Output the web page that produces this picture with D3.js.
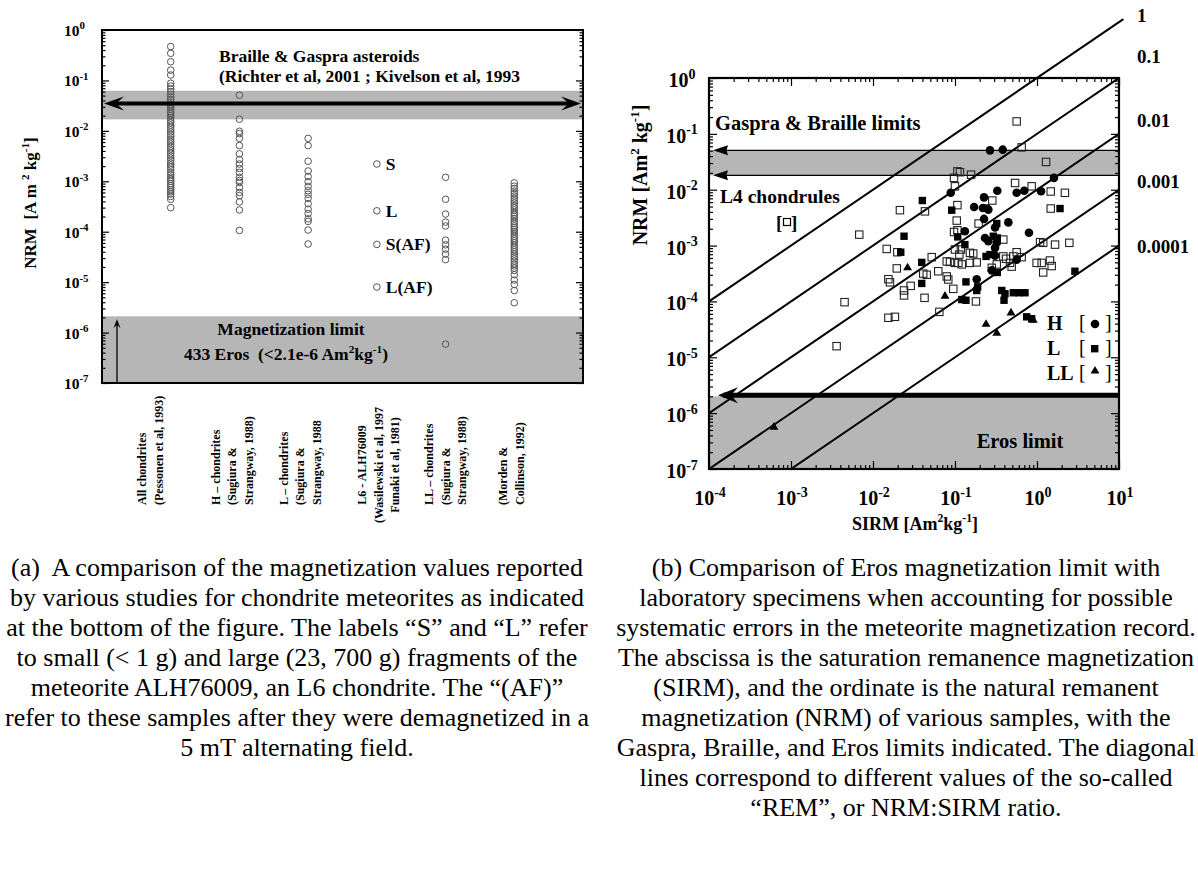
<!DOCTYPE html>
<html>
<head>
<meta charset="utf-8">
<script src="https://cdn.jsdelivr.net/npm/d3@7"></script>
<style>
  body { margin: 0; background: #fff; }
  svg { display: block; }
  text { font-family: "Liberation Serif", "Times New Roman", Times, serif; white-space: pre; }
</style>
</head>
<body>
<svg id="fig" width="1198" height="888"></svg>
<script>
// ---------------- Panel (a): reported chondrite NRM values [A m^2 kg^-1] ----------------
const sourceKeys = ["all", "H", "L", "L6", "LL", "MC"];
const sourceLabelLines = [
  ["All chondrites", "(Pessonen et al, 1993)"],
  ["H – chondrites", "(Sugiura &", "Strangway, 1988)"],
  ["L – chondrites", "(Sugiura &", "Strangway, 1988"],
  ["L6 - ALH76009", "(Wasilewski et al, 1997", "Funaki et al, 1981)"],
  ["LL – chondrites", "(Sugiura &", "Strangway, 1988)"],
  ["(Morden &", "Collinson, 1992)"]
];
const allChondrites = [0.47, 0.345, 0.235, 0.16, 0.128, 0.088, 0.077, 0.068, 0.06, 0.053, 0.047,
  0.042, 0.037, 0.033, 0.03, 0.027, 0.024, 0.022, 0.02, 0.018, 0.016, 0.0145, 0.013, 0.0118,
  0.0105, 0.0095, 0.0085, 0.0076, 0.0068, 0.0061, 0.0055, 0.0049, 0.0044, 0.004, 0.0036,
  0.0032, 0.0029, 0.0026, 0.0023, 0.0021, 0.0019, 0.0017, 0.0015, 0.00135, 0.0012, 0.0011,
  0.001, 0.0009, 0.00082, 0.00075, 0.00068, 0.00062, 0.00056, 0.0005, 0.00044, 0.0003];
const hChondrites = [0.051, 0.017, 0.0098, 0.0088, 0.0071, 0.0051, 0.0035, 0.0027, 0.0022,
  0.0018, 0.0015, 0.0012, 0.00104, 0.00095, 0.00075, 0.0006, 0.00052, 0.00039, 0.00027, 0.000106];
const lChondrites = [0.0071, 0.0051, 0.0025, 0.0016, 0.00124, 0.00098, 0.00079, 0.00065,
  0.00055, 0.00046, 0.00036, 0.00028, 0.00023, 0.00018, 0.00016, 0.000108, 5.7e-5];
const alh76009 = [0.0022, 0.00026, 5.6e-5, 8.0e-6];
const alh76009Labels = ["S", "L", "S(AF)", "L(AF)"];
const llChondrites = [0.0012, 0.00044, 0.000224, 0.000155, 0.00013, 6.8e-5, 5.5e-5, 4.5e-5,
  3.6e-5, 2.8e-5, 5.9e-7];
const mordenCollinson = [9.3e-4, 8e-4, 7.2e-4, 6.4e-4, 5.7e-4, 5.1e-4, 4.6e-4, 4.1e-4, 3.7e-4,
  3.3e-4, 3.0e-4, 2.7e-4, 2.4e-4, 2.2e-4, 2.0e-4, 1.8e-4, 1.6e-4, 1.45e-4, 1.3e-4, 1.2e-4,
  1.1e-4, 1.0e-4, 9e-5, 8.1e-5, 7.3e-5, 6.6e-5, 6e-5, 5.4e-5, 4.9e-5, 4.4e-5, 4e-5, 3.6e-5,
  3.2e-5, 2.9e-5, 2.6e-5, 2.3e-5, 2.1e-5, 1.9e-5, 1.7e-5, 1.4e-5, 1.1e-5, 9e-6, 6.8e-6, 3.9e-6];
const asteroidBand = [0.0169, 0.0625];   // Braille & Gaspra range
const asteroidLevel = 0.035;
const erosLimitA = 2.1e-6;
const nrmExponents = [-7, -6, -5, -4, -3, -2, -1, 0];

// ---------------- Panel (b): NRM vs SIRM [A m^2 kg^-1] ----------------
const sirmExponents = [-4, -3, -2, -1, 0, 1];
const remValues = [1, 0.1, 0.01, 0.001, 0.0001];
const remLabels = ["1", "0.1", "0.01", "0.001", "0.0001"];
const gaspraBrailleLimits = [0.0181, 0.0507];
const erosLimitB = 2.0e-6;
// [SIRM, NRM]
const l4Chondrules = [
  [0.0036, 1.58e-5], [0.0045, 9.7e-5], [0.0068, 0.00157], [0.0147, 0.00087], [0.0154, 0.00025],
  [0.0161, 0.00022], [0.0154, 5.1e-5], [0.0185, 5.3e-5], [0.0198, 0.00076], [0.0195, 0.00039],
  [0.0213, 0.0043], [0.0239, 0.000157], [0.0239, 0.000128], [0.0288, 0.00019], [0.043, 0.0041],
  [0.0425, 0.000116], [0.0452, 0.0003], [0.041, 0.000315], [0.052, 0.00062], [0.0625, 0.000347],
  [0.0644, 6.5e-5], [0.0793, 0.00052], [0.0869, 0.00051], [0.0793, 0.00028], [0.0828, 0.000247],
  [0.0953, 0.000168], [0.0973, 0.0163], [0.107, 0.0213], [0.115, 0.0206], [0.157, 0.0186],
  [0.0998, 0.0115], [0.107, 0.0053], [0.105, 0.0028], [0.0973, 0.00175], [0.107, 0.00188],
  [0.0998, 0.00085], [0.118, 0.00085], [0.0998, 0.00049], [0.113, 0.00069], [0.110, 0.00049],
  [0.121, 0.00046], [0.152, 0.00074], [0.167, 0.00072], [0.152, 0.00049], [0.184, 0.0005],
  [0.194, 0.00248], [0.18, 0.0001], [0.285, 0.0064], [0.388, 0.00128], [0.388, 0.00064],
  [0.419, 0.00058], [0.469, 0.00049], [0.514, 0.00064], [0.565, 0.00076], [0.65, 0.00062],
  [0.281, 0.0004], [0.323, 0.00046], [0.491, 0.00042], [0.565, 0.167], [0.65, 0.0573],
  [1.29, 0.0314], [0.54, 0.0132], [0.861, 0.0115], [1.47, 0.0093], [2.19, 0.0088],
  [1.47, 0.0046], [1.09, 0.00115], [1.19, 0.00112], [1.66, 0.00104], [2.48, 0.00112],
  [0.99, 0.00049], [1.14, 0.00049], [1.44, 0.00054], [1.51, 0.00043], [1.19, 0.00033]
];
const hGroup = [
  [0.267, 0.0507], [0.382, 0.0521], [1.61, 0.0163], [0.0887, 0.0088], [0.328, 0.0096],
  [0.565, 0.0088], [0.70, 0.0096], [1.12, 0.0094], [0.226, 0.0073], [0.171, 0.0049],
  [0.219, 0.0047], [0.255, 0.0044], [0.226, 0.0030], [0.447, 0.0026], [0.308, 0.0021],
  [0.798, 0.0017], [0.132, 0.0018], [0.232, 0.00137], [0.255, 0.0012], [0.323, 0.00112],
  [0.308, 0.00091], [0.308, 0.00066], [0.565, 0.00056], [0.281, 0.00036], [0.184, 0.00025]
];
const lGroup = [
  [0.04, 0.0064], [0.0912, 0.0043], [0.239, 0.0047], [1.91, 0.0046], [0.323, 0.00248],
  [0.0239, 0.00147], [0.293, 0.00147], [0.328, 0.00137], [0.132, 0.00104], [0.108, 0.00143],
  [0.0218, 0.00076], [0.0393, 0.0005], [0.239, 0.00064], [0.267, 0.00069], [0.328, 0.00033],
  [2.90, 0.000347], [0.0393, 0.00021], [0.136, 0.000224], [0.184, 0.000157], [0.189, 0.000182],
  [0.121, 0.000108], [0.136, 0.000105], [0.372, 0.000157], [0.407, 0.000137], [0.396, 0.000105],
  [0.514, 0.000143], [0.608, 0.000143], [0.714, 0.000143], [0.748, 5.3e-5], [0.861, 4.9e-5]
];
const llGroup = [
  [6.2e-4, 5.6e-7], [0.0264, 0.0004], [0.0755, 0.000124], [0.239, 3.9e-5], [0.482, 6.25e-5],
  [0.902, 4.6e-5], [0.323, 2.7e-5]
];

const captionA = [
  "(a)  A comparison of the magnetization values reported",
  "by various studies for chondrite meteorites as indicated",
  "at the bottom of the figure. The labels “S” and “L” refer",
  "to small (< 1 g) and large (23, 700 g) fragments of the",
  "meteorite ALH76009, an L6 chondrite. The “(AF)”",
  "refer to these samples after they were demagnetized in a",
  "5 mT alternating field."
];
const captionB = [
  "(b) Comparison of Eros magnetization limit with",
  "laboratory specimens when accounting for possible",
  "systematic errors in the meteorite magnetization record.",
  "The abscissa is the saturation remanence magnetization",
  "(SIRM), and the ordinate is the natural remanent",
  "magnetization (NRM) of various samples, with the",
  "Gaspra, Braille, and Eros limits indicated. The diagonal",
  "lines correspond to different values of the so-called",
  "“REM”, or NRM:SIRM ratio."
];

// ---------------- helpers ----------------
const svg = d3.select("#fig");
const GRAY = "#b6b6b6";

function richText(sel, parts, fs, supScale = 0.65) {
  let prevSup = false;
  parts.forEach(([s, sup]) => {
    const t = sel.append("tspan").text(s);
    if (sup) {
      t.attr("font-size", supScale * fs);
      if (!prevSup) t.attr("dy", -0.42 * fs);
    } else if (prevSup) {
      t.attr("dy", 0.42 * fs);
    }
    prevSup = sup;
  });
  return sel;
}
function powLabel(g, x, y, exp, fs, anchor) {
  const t = g.append("text").attr("x", x).attr("y", y).attr("font-size", fs)
    .attr("font-weight", "bold").attr("text-anchor", anchor);
  return richText(t, [["10", false], [String(exp), true]], fs, 0.7);
}
function arrowHead(g, x, y, dir, len, half, notch) {
  const [dx, dy] = dir, px = -dy, py = dx;
  const bx = x - dx * len, by = y - dy * len;
  const nx = x - dx * len * notch, ny = y - dy * len * notch;
  g.append("path")
    .attr("d", `M${x},${y}L${bx + px * half},${by + py * half}L${nx},${ny}L${bx - px * half},${by - py * half}Z`)
    .attr("fill", "#000");
}
function logTicks(e0, e1) {
  const out = [];
  for (let e = e0; e <= e1; e++) {
    out.push(Math.pow(10, e));
    if (e < e1) for (let k = 2; k <= 9; k++) out.push(k * Math.pow(10, e));
  }
  return out;
}
const isMajor = d => Math.abs(Math.log10(d) - Math.round(Math.log10(d))) < 1e-9;

function tickAxis(g, axis, orient, majorLen, minorLen) {
  g.call(axis.tickFormat("").tickSizeOuter(0));
  g.select(".domain").remove();
  g.selectAll(".tick line").attr("stroke", "#000").attr("stroke-width", 1.2)
    .each(function (d) {
      const L = isMajor(d) ? majorLen : minorLen;
      const el = d3.select(this);
      if (orient === "left") el.attr("x2", L);
      if (orient === "right") el.attr("x2", -L);
      if (orient === "bottom") el.attr("y2", -L);
      if (orient === "top") el.attr("y2", L);
    });
}

// ======================= Panel (a) =======================
const A = { left: 102, right: 583, top: 30, bottom: 383 };
const xA = d3.scalePoint().domain(sourceKeys).range([A.left, A.right]).padding(1);
const yA = d3.scaleLog().domain([1e-7, 1]).range([A.bottom, A.top]);
const gA = svg.append("g");

gA.append("rect").attr("x", A.left).attr("width", A.right - A.left)
  .attr("y", yA(asteroidBand[1])).attr("height", yA(asteroidBand[0]) - yA(asteroidBand[1]))
  .attr("fill", GRAY);
gA.append("rect").attr("x", A.left).attr("width", A.right - A.left)
  .attr("y", yA(erosLimitA)).attr("height", A.bottom - yA(erosLimitA)).attr("fill", GRAY);

// measured values, one column per source
const columns = [allChondrites, hChondrites, lChondrites, alh76009, llChondrites, mordenCollinson];
const pointsA = [];
columns.forEach((vals, i) => vals.forEach(v => pointsA.push({ key: sourceKeys[i], v })));
gA.selectAll("circle.nrm").data(pointsA).join("circle").attr("class", "nrm")
  .attr("cx", d => xA(d.key)).attr("cy", d => yA(d.v)).attr("r", 3.3)
  .attr("fill", "none").attr("stroke", "#555").attr("stroke-width", 1);

// ALH76009 fragment labels
gA.selectAll("text.frag").data(alh76009).join("text").attr("class", "frag")
  .attr("x", xA("L6") + 9).attr("y", d => yA(d) + 6)
  .attr("font-size", 17.5).attr("font-weight", "bold")
  .text((d, i) => alh76009Labels[i]);

// double arrow across the asteroid band
{
  const y = yA(asteroidLevel);
  gA.append("line").attr("x1", A.left + 12).attr("x2", A.right - 12).attr("y1", y).attr("y2", y)
    .attr("stroke", "#000").attr("stroke-width", 4);
  arrowHead(gA, A.left + 2, y, [-1, 0], 20, 7, 0.6);
  arrowHead(gA, A.right - 2, y, [1, 0], 20, 7, 0.6);
}
// small arrow marking the Eros upper limit
{
  const x = A.left + 15, yTip = yA(erosLimitA) + 3;
  gA.append("line").attr("x1", x).attr("x2", x).attr("y1", A.bottom).attr("y2", yTip + 5)
    .attr("stroke", "#000").attr("stroke-width", 1.3);
  arrowHead(gA, x, yTip, [0, -1], 9, 3.5, 0.6);
}

gA.append("text").attr("x", 219).attr("y", yA(asteroidBand[1]) - 29).attr("font-size", 17.5)
  .attr("font-weight", "bold").text("Braille & Gaspra asteroids");
gA.append("text").attr("x", 219).attr("y", yA(asteroidBand[1]) - 9).attr("font-size", 17.5)
  .attr("font-weight", "bold").text("(Richter et al, 2001 ; Kivelson et al, 1993");
gA.append("text").attr("x", 291).attr("y", yA(erosLimitA) + 19).attr("font-size", 17.5)
  .attr("font-weight", "bold").attr("text-anchor", "middle").text("Magnetization limit");
richText(gA.append("text").attr("x", 286).attr("y", yA(erosLimitA) + 44).attr("font-size", 17.5)
  .attr("font-weight", "bold").attr("text-anchor", "middle"),
  [["433 Eros  (<2.1e-6 Am", false], ["2", true], ["kg", false], ["-1", true], [")", false]], 17.5);

// axes / frame
const nrmTicks = logTicks(-7, 0);
tickAxis(gA.append("g").attr("transform", `translate(${A.left},0)`),
  d3.axisRight(yA).tickValues(nrmTicks), "left", 7, 3.5);
tickAxis(gA.append("g").attr("transform", `translate(${A.right},0)`),
  d3.axisLeft(yA).tickValues(nrmTicks), "right", 7, 3.5);
gA.append("rect").attr("x", A.left).attr("y", A.top).attr("width", A.right - A.left)
  .attr("height", A.bottom - A.top).attr("fill", "none").attr("stroke", "#000").attr("stroke-width", 2);
nrmExponents.forEach(e => powLabel(gA, 64, yA(Math.pow(10, e)) + 6, e, 15.5, "start"));

richText(gA.append("text").attr("font-size", 17).attr("font-weight", "bold")
  .attr("text-anchor", "middle").attr("transform", `translate(36,203) rotate(-90)`),
  [["NRM  [A m ", false], ["2", true], [" kg", false], ["-1", true], ["]", false]], 17);

// source labels below the frame
const labelShift = [-20, -7, -8, 2, 0, -3];
sourceKeys.forEach((k, i) => {
  const lines = sourceLabelLines[i], n = lines.length;
  const centered = k === "L6";
  lines.forEach((s, j) => {
    const gx = xA(k) + labelShift[i] + (j - (n - 1) / 2) * 16.5 + 4;
    gA.append("text").attr("font-size", 12).attr("font-weight", "bold")
      .attr("text-anchor", centered ? "middle" : "start")
      .attr("transform", `translate(${gx},${centered ? 465 : 505}) rotate(-90)`).text(s);
  });
});

// ======================= Panel (b) =======================
const B = { left: 709, right: 1119, top: 78, bottom: 469 };
const xB = d3.scaleLog().domain([1e-4, 10]).range([B.left, B.right]);
const yB = d3.scaleLog().domain([1e-7, 1]).range([B.bottom, B.top]);
const gB = svg.append("g");
svg.append("defs").append("clipPath").attr("id", "plotB").append("rect")
  .attr("x", B.left).attr("y", B.top).attr("width", B.right - B.left).attr("height", B.bottom - B.top);

gB.append("rect").attr("x", B.left).attr("width", B.right - B.left)
  .attr("y", yB(gaspraBrailleLimits[1])).attr("height", yB(gaspraBrailleLimits[0]) - yB(gaspraBrailleLimits[1]))
  .attr("fill", GRAY);
gB.append("rect").attr("x", B.left).attr("width", B.right - B.left)
  .attr("y", yB(erosLimitB)).attr("height", B.bottom - yB(erosLimitB)).attr("fill", GRAY);

// Gaspra & Braille limit lines
gaspraBrailleLimits.forEach(v => {
  const y = yB(v);
  gB.append("line").attr("x1", B.left + 10).attr("x2", B.right).attr("y1", y).attr("y2", y)
    .attr("stroke", "#000").attr("stroke-width", 1.3);
  arrowHead(gB, B.left + 4, y, [-1, 0], 15, 5, 0.9);
});
// Eros limit line
{
  const y = yB(erosLimitB) - 1;
  gB.append("line").attr("x1", B.left + 14).attr("x2", B.right).attr("y1", y).attr("y2", y)
    .attr("stroke", "#000").attr("stroke-width", 5);
  arrowHead(gB, B.left + 9, y, [-1, 0], 20, 8, 0.65);
}

// constant-REM diagonals: NRM = REM * SIRM
const remLine = d3.line().x(d => xB(d[0])).y(d => yB(d[1]));
remValues.forEach(r => {
  const sEnd = r === 1 ? 11.3 : 10;
  const p = gB.append("path").datum([[1e-4, r * 1e-4], [sEnd, r * sEnd]]).attr("d", remLine)
    .attr("fill", "none").attr("stroke", "#000").attr("stroke-width", 2);
  if (r !== 1) p.attr("clip-path", "url(#plotB)");
});
const remLabelBaseline = [22, 63, 127, 188, 253];
remLabels.forEach((s, i) => gB.append("text").attr("x", 1137).attr("y", remLabelBaseline[i])
  .attr("font-size", 19).attr("font-weight", "bold").text(s));

// specimens
const sq = 7.4;
gB.selectAll("rect.l4").data(l4Chondrules).join("rect").attr("class", "l4")
  .attr("x", d => xB(d[0]) - sq / 2).attr("y", d => yB(d[1]) - sq / 2).attr("width", sq).attr("height", sq)
  .attr("fill", "none").attr("stroke", "#222").attr("stroke-width", 1.1);
gB.selectAll("rect.lg").data(lGroup).join("rect").attr("class", "lg")
  .attr("x", d => xB(d[0]) - sq / 2).attr("y", d => yB(d[1]) - sq / 2).attr("width", sq).attr("height", sq)
  .attr("fill", "#000");
gB.selectAll("circle.hg").data(hGroup).join("circle").attr("class", "hg")
  .attr("cx", d => xB(d[0])).attr("cy", d => yB(d[1])).attr("r", 4.3).attr("fill", "#000");
const tri = d3.symbol().type(d3.symbolTriangle).size(34);
gB.selectAll("path.llg").data(llGroup).join("path").attr("class", "llg")
  .attr("transform", d => `translate(${xB(d[0])},${yB(d[1])})`).attr("d", tri).attr("fill", "#000");

// axes / frame
tickAxis(gB.append("g").attr("transform", `translate(${B.left},0)`),
  d3.axisRight(yB).tickValues(nrmTicks), "left", 8, 4);
tickAxis(gB.append("g").attr("transform", `translate(${B.right},0)`),
  d3.axisLeft(yB).tickValues(nrmTicks), "right", 8, 4);
const sirmTicks = logTicks(-4, 1);
tickAxis(gB.append("g").attr("transform", `translate(0,${B.bottom})`),
  d3.axisTop(xB).tickValues(sirmTicks), "bottom", 8, 4);
tickAxis(gB.append("g").attr("transform", `translate(0,${B.top})`),
  d3.axisBottom(xB).tickValues(sirmTicks), "top", 8, 4);
gB.append("rect").attr("x", B.left).attr("y", B.top).attr("width", B.right - B.left)
  .attr("height", B.bottom - B.top).attr("fill", "none").attr("stroke", "#000").attr("stroke-width", 2.2);

nrmExponents.forEach(e => powLabel(gB, 682, yB(Math.pow(10, e)) + 9, e, 20, "middle"));
sirmExponents.forEach(e => powLabel(gB, xB(Math.pow(10, e)) + 1, 505, e, 20, "middle"));

richText(gB.append("text").attr("x", 915).attr("y", 530).attr("font-size", 18).attr("font-weight", "bold")
  .attr("text-anchor", "middle"),
  [["SIRM [Am", false], ["2", true], ["kg", false], ["-1", true], ["]", false]], 18);
richText(gB.append("text").attr("font-size", 20).attr("font-weight", "bold")
  .attr("text-anchor", "middle").attr("transform", `translate(647,175) rotate(-90)`),
  [["NRM [Am", false], ["2", true], [" kg", false], ["-1", true], ["]", false]], 20);

// annotations
gB.append("text").attr("x", 715).attr("y", yB(gaspraBrailleLimits[1]) - 20).attr("font-size", 20.5)
  .attr("font-weight", "bold").text("Gaspra & Braille limits");
gB.append("text").attr("x", 720).attr("y", 203).attr("font-size", 19.5)
  .attr("font-weight", "bold").text("L4 chondrules");
gB.append("text").attr("x", 776).attr("y", 229).attr("font-size", 19).attr("font-weight", "bold").text("[");
gB.append("text").attr("x", 791).attr("y", 229).attr("font-size", 19).attr("font-weight", "bold").text("]");
gB.append("rect").attr("x", 783.5).attr("y", 218.5).attr("width", 7).attr("height", 7)
  .attr("fill", "none").attr("stroke", "#000").attr("stroke-width", 1.2);
gB.append("text").attr("x", (B.left + B.right) / 2 + 106).attr("y", 448).attr("font-size", 20.5)
  .attr("font-weight", "bold").attr("text-anchor", "middle").text("Eros limit");

// group legend
const legendRows = [["H", 330], ["L", 355], ["LL", 380]];
legendRows.forEach(([s, y]) => {
  gB.append("text").attr("x", 1047).attr("y", y).attr("font-size", 20).attr("font-weight", "bold").text(s);
  gB.append("text").attr("x", 1079).attr("y", y - 1).attr("font-size", 20).text("[");
  gB.append("text").attr("x", 1105).attr("y", y - 1).attr("font-size", 20).text("]");
});
gB.append("circle").attr("cx", 1095).attr("cy", 324).attr("r", 4.3).attr("fill", "#000");
gB.append("rect").attr("x", 1091).attr("y", 345).attr("width", 7.4).attr("height", 7.4).attr("fill", "#000");
gB.append("path").attr("transform", "translate(1095,371)").attr("d", tri).attr("fill", "#000");

// ======================= captions =======================
const capG = svg.append("g").attr("font-size", 26).attr("text-anchor", "middle");
captionA.forEach((s, i) => capG.append("text").attr("x", 297).attr("y", 576 + 30 * i).text(s));
captionB.forEach((s, i) => capG.append("text").attr("x", 906).attr("y", 576 + 30 * i).text(s));
</script>
</body>
</html>
